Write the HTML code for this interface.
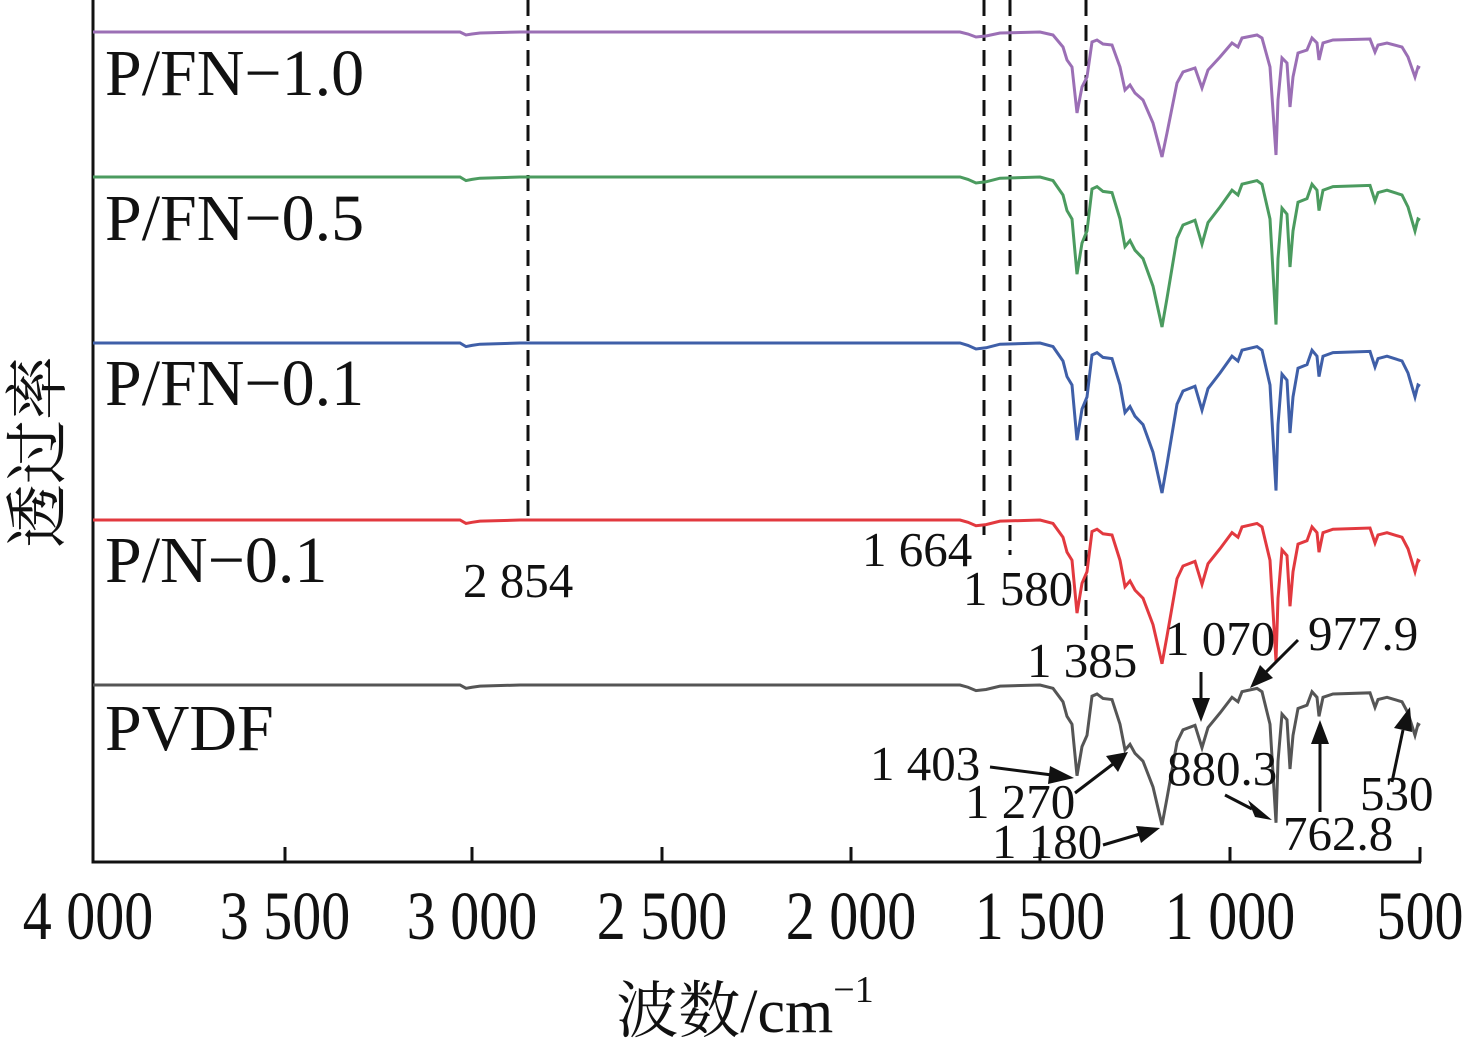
<!DOCTYPE html>
<html><head><meta charset="utf-8"><style>
html,body{margin:0;padding:0;background:#fff;}
svg{display:block;}
text{font-family:"Liberation Serif","Noto Serif CJK SC",serif;fill:#111;}
</style></head><body>
<svg width="1473" height="1045" viewBox="0 0 1473 1045" xmlns="http://www.w3.org/2000/svg">
<defs>
<polyline id="sp" fill="none" vector-effect="non-scaling-stroke" points="93,0 300,0 460,0 466,3 472,2 480,1 520,0 700,0 960,0 968,2 976,5 986,4 1000,1 1040,0 1053,3 1063,15 1067,28 1072,35 1077,81 1082,55 1087,45 1092,10 1097,8 1103,12 1112,13 1120,35 1125,58 1130,53 1135,61 1143,68 1153,91 1162,125 1167,101 1177,51 1183,40 1195,36 1202,56 1208,38 1220,25 1232,11 1238,15 1242,6 1257,3 1262,6 1270,35 1276,123 1278,68 1282,26 1287,31 1290,75 1293,45 1298,21 1307,18 1312,6 1317,11 1319,28 1323,11 1333,8 1370,7 1375,20 1378,13 1387,11 1402,15 1408,25 1415,45 1418,35 1420,36"/>
</defs>
<path d="M93,0 V862 H1421" fill="none" stroke="#111" stroke-width="3"/>
<g stroke="#111" stroke-width="3">
<line x1="285" y1="862" x2="285" y2="847"/><line x1="472" y1="862" x2="472" y2="847"/>
<line x1="662" y1="862" x2="662" y2="847"/><line x1="851" y1="862" x2="851" y2="847"/>
<line x1="1040" y1="862" x2="1040" y2="847"/><line x1="1230" y1="862" x2="1230" y2="847"/>
<line x1="1420" y1="862" x2="1420" y2="847"/>
</g>
<g font-size="58" text-anchor="middle">
<text transform="translate(88,939) scale(1,1.18)">4 000</text>
<text transform="translate(285,939) scale(1,1.18)">3 500</text>
<text transform="translate(472,939) scale(1,1.18)">3 000</text>
<text transform="translate(662,939) scale(1,1.18)">2 500</text>
<text transform="translate(851,939) scale(1,1.18)">2 000</text>
<text transform="translate(1040,939) scale(1,1.18)">1 500</text>
<text transform="translate(1230,939) scale(1,1.18)">1 000</text>
<text transform="translate(1420,939) scale(1,1.18)">500</text>
</g>
<text x="745" y="1032" font-size="62" text-anchor="middle">波数/cm<tspan font-size="38" dy="-30">−1</tspan></text>
<text transform="translate(60,452) rotate(-90)" font-size="64" text-anchor="middle">透过率</text>
<g stroke="#111" stroke-width="3" stroke-dasharray="16,9">
<line x1="528" y1="0" x2="528" y2="522"/><line x1="984" y1="0" x2="984" y2="535"/>
<line x1="1010" y1="0" x2="1010" y2="555"/><line x1="1086" y1="0" x2="1086" y2="640"/>
</g>
<use href="#sp" transform="translate(0,32) scale(1,1)" stroke="#9b6fb5" stroke-width="3"/>
<use href="#sp" transform="translate(0,177) scale(1,1.2)" stroke="#4b9b5f" stroke-width="3"/>
<use href="#sp" transform="translate(0,343) scale(1,1.2)" stroke="#3f5fa8" stroke-width="3"/>
<use href="#sp" transform="translate(0,520) scale(1,1.15)" stroke="#e2393f" stroke-width="3"/>
<use href="#sp" transform="translate(0,685) scale(1,1.12)" stroke="#555" stroke-width="3"/>
<g font-size="66">
<text x="105" y="95">P/FN−1.0</text><text x="105" y="240">P/FN−0.5</text>
<text x="105" y="405">P/FN−0.1</text><text x="105" y="582">P/N−0.1</text>
<text x="105" y="750">PVDF</text>
</g>
<g font-size="49">
<text x="463" y="597">2 854</text><text x="862" y="566">1 664</text><text x="963" y="605">1 580</text>
<text x="1027" y="677">1 385</text><text x="1165" y="655">1 070</text><text x="1308" y="650">977.9</text>
<text x="870" y="780">1 403</text><text x="965" y="818">1 270</text><text x="992" y="858">1 180</text>
<text x="1167" y="785">880.3</text><text x="1283" y="850">762.8</text><text x="1360" y="810">530</text>
</g>
<g stroke="#111" stroke-width="3">
<line x1="990" y1="767" x2="1052" y2="775"/><line x1="1075" y1="793" x2="1113" y2="764"/>
<line x1="1103" y1="845" x2="1140" y2="834"/><line x1="1201" y1="672" x2="1201" y2="700"/>
<line x1="1298" y1="640" x2="1266" y2="672"/><line x1="1225" y1="795" x2="1252" y2="809"/>
<line x1="1320" y1="812" x2="1320" y2="740"/><line x1="1392" y1="782" x2="1403" y2="730"/>
</g>
<g fill="#111">
<polygon points="1074,778 1050,766 1048,784"/>
<polygon points="1128,752 1106,756 1118,772"/>
<polygon points="1160,828 1136,826 1141,843"/>
<polygon points="1201,722 1192,698 1210,698"/>
<polygon points="1250,688 1260,665 1273,678"/>
<polygon points="1272,820 1248,800 1255,817"/>
<polygon points="1320,720 1311,744 1329,744"/>
<polygon points="1410,707 1394,728 1412,732"/>
</g>
</svg>
</body></html>
